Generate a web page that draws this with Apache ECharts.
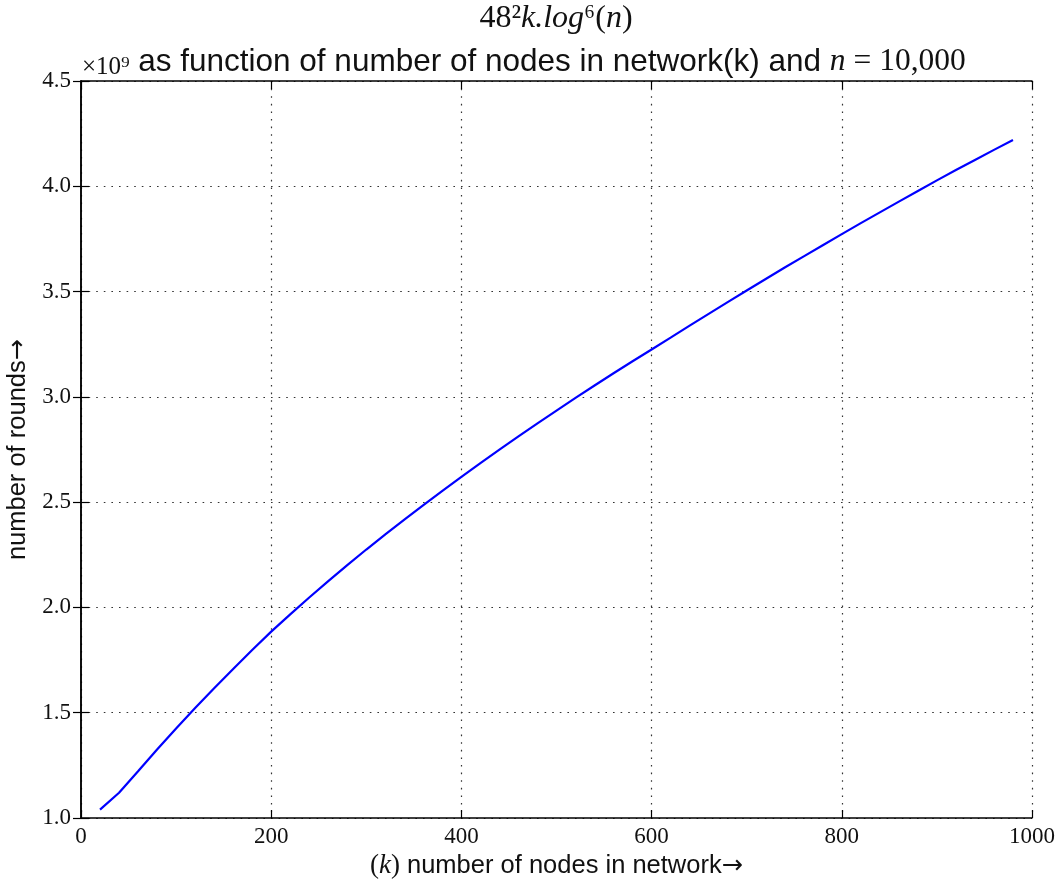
<!DOCTYPE html>
<html>
<head>
<meta charset="utf-8">
<title>Rounds vs. network size</title>
<script src="https://cdn.jsdelivr.net/npm/echarts@6/dist/echarts.min.js"></script>
<style>
  html, body { margin: 0; padding: 0; background: #ffffff; }
  #chart { width: 1062px; height: 882px; }
</style>
</head>
<body>
<div id="chart"></div>
<script>
// number of nodes in the network (k)
const nodes = [
  20, 40, 60, 80, 100, 120, 140, 160, 180, 200,
  220, 240, 260, 280, 300, 320, 340, 360, 380, 400,
  420, 440, 460, 480, 500, 520, 540, 560, 580, 600,
  620, 640, 660, 680, 700, 720, 740, 760, 780, 800,
  820, 840, 860, 880, 900, 920, 940, 960, 980
];
// number of rounds, in units of 10^9
const roundsE9 = [
  1.04, 1.12, 1.222, 1.325, 1.425, 1.522, 1.616, 1.708, 1.798, 1.885,
  1.967, 2.047, 2.125, 2.201, 2.275, 2.347, 2.417, 2.486, 2.554, 2.62,
  2.685, 2.749, 2.812, 2.874, 2.935, 2.995, 3.054, 3.112, 3.169, 3.225,
  3.281, 3.338, 3.394, 3.450, 3.505, 3.560, 3.614, 3.667, 3.720, 3.773,
  3.825, 3.876, 3.927, 3.978, 4.028, 4.077, 4.125, 4.173, 4.22
];
// axis ranges and tick labels
const xTickLabels = ['0', '200', '400', '600', '800', '1000'];
const yTickLabels = ['1.0', '1.5', '2.0', '2.5', '3.0', '3.5', '4.0', '4.5'];
const X_MIN = 0, X_MAX = 1000, X_STEP = 200;
const Y_MIN = 1.0, Y_MAX = 4.5, Y_STEP = 0.5;

const SERIF = "'Liberation Serif', 'DejaVu Serif', serif";
const SANS = "'Liberation Sans', Arial, sans-serif";
const ARROW = "'DejaVu Sans', sans-serif";

const chart = echarts.init(document.getElementById('chart'), null, { renderer: 'canvas' });

const frameLine = { show: true, lineStyle: { color: '#000', width: 1.5 } };
const innerTick = { show: true, inside: true, length: 8, lineStyle: { color: '#000', width: 1.2 } };
const gridDots = { show: true, lineStyle: { color: '#333', width: 1.2, type: [1.6, 6] } };

const xLabel = {
  color: '#111', fontFamily: SERIF, fontSize: 23, margin: 7,
  formatter: v => xTickLabels[Math.round((v - X_MIN) / X_STEP)] ?? ''
};
const yLabel = {
  color: '#111', fontFamily: SERIF, fontSize: 23, margin: 10,
  formatter: v => yTickLabels[Math.round((v - Y_MIN) / Y_STEP)] ?? ''
};

chart.setOption({
  animation: false,
  backgroundColor: '#ffffff',
  grid: { left: 81, right: 30, top: 81, bottom: 64, containLabel: false, outerBoundsMode: 'none' },
  xAxis: [
    {
      type: 'value', min: X_MIN, max: X_MAX, interval: X_STEP, position: 'bottom',
      axisLine: frameLine, axisTick: innerTick, axisLabel: xLabel, splitLine: gridDots,
      name: '{mp|(}{mi|k}{mp|)}{s| number of nodes in network}{a|→}',
      nameLocation: 'middle', nameGap: 24,
      nameTextStyle: {
        rich: {
          mp: { fontFamily: SERIF, fontSize: 27, color: '#111' },
          mi: { fontFamily: SERIF, fontStyle: 'italic', fontSize: 27, color: '#111' },
          s: { fontFamily: SANS, fontSize: 25.5, color: '#111' },
          a: { fontFamily: ARROW, fontSize: 25.5, color: '#111' }
        }
      }
    },
    {
      type: 'value', min: X_MIN, max: X_MAX, interval: X_STEP, position: 'top',
      axisLine: frameLine, axisTick: innerTick, axisLabel: { show: false }, splitLine: { show: false }
    }
  ],
  yAxis: [
    {
      type: 'value', min: Y_MIN, max: Y_MAX, interval: Y_STEP, position: 'left',
      axisLine: frameLine, axisTick: innerTick, axisLabel: yLabel, splitLine: gridDots,
      name: '{s|number of rounds}{a|→}', nameLocation: 'middle', nameGap: 41, nameRotate: 90,
      nameTextStyle: {
        rich: {
          s: { fontFamily: SANS, fontSize: 25.5, color: '#111' },
          a: { fontFamily: ARROW, fontSize: 25.5, color: '#111' }
        }
      }
    },
    {
      type: 'value', min: Y_MIN, max: Y_MAX, interval: Y_STEP, position: 'right',
      axisLine: frameLine, axisTick: innerTick, axisLabel: { show: false }, splitLine: { show: false }
    }
  ],
  graphic: [
    {
      type: 'text', x: 556, y: 19, silent: true,
      style: {
        text: '{n|48²}{i|k.log}{n|⁶(}{i|n}{n|)}',
        align: 'center', verticalAlign: 'middle',
        rich: {
          n: { fontFamily: SERIF, fontSize: 32, fill: '#111' },
          i: { fontFamily: SERIF, fontStyle: 'italic', fontSize: 32, fill: '#111' }
        }
      }
    },
    {
      type: 'text', x: 552, y: 62, silent: true,
      style: {
        text: '{s|as function of number of nodes in network(k) and }{i|n}{n| = 10,000}',
        align: 'center', verticalAlign: 'middle',
        rich: {
          s: { fontFamily: SANS, fontSize: 31.5, fill: '#111' },
          i: { fontFamily: SERIF, fontStyle: 'italic', fontSize: 31.5, fill: '#111' },
          n: { fontFamily: SERIF, fontSize: 31.5, fill: '#111' }
        }
      }
    },
    {
      type: 'text', x: 82, y: 67, silent: true,
      style: {
        text: '×10⁹', align: 'left', verticalAlign: 'middle',
        fontFamily: SERIF, fontSize: 25, fill: '#111'
      }
    }
  ],
  series: [
    {
      type: 'line', xAxisIndex: 0, yAxisIndex: 0,
      data: nodes.map((k, i) => [k, roundsE9[i]]),
      showSymbol: false, smooth: false,
      lineStyle: { color: '#0000ff', width: 2.2 },
      itemStyle: { color: '#0000ff' }
    }
  ]
});
</script>
</body>
</html>
